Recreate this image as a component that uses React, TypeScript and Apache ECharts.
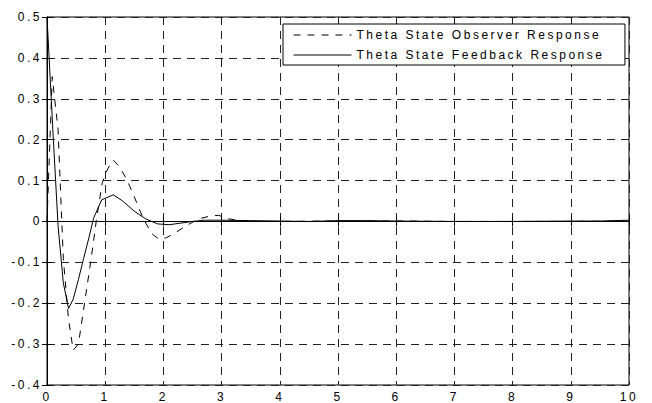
import React, { useEffect, useRef } from "react";
import * as echarts from "echarts";

const xTicks = [0, 1, 2, 3, 4, 5, 6, 7, 8, 9, 10];
const seriesNames = ["Theta State Observer Response", "Theta State Feedback Response"];

const obsT = [0, 0.09, 0.19, 0.28, 0.37, 0.45, 0.54, 0.65, 0.76, 0.85, 0.95, 1.04, 1.14, 1.24, 1.37, 1.5, 1.65, 1.8, 1.92, 2.05, 2.2, 2.4, 2.6, 2.8, 2.95, 3.1, 3.3, 3.6, 4, 5, 6, 7, 8, 9, 10];
const obsV = [0, 0.354, 0.225, -0.09, -0.24, -0.315, -0.3, -0.195, -0.09, 0.005, 0.095, 0.128, 0.15, 0.135, 0.103, 0.06, 0.008, -0.03, -0.043, -0.04, -0.028, -0.01, 0.006, 0.013, 0.015, 0.007, 0.002, 0, 0, 0.001, 0.001, 0, 0, 0, 0.001];

const fbT = [0, 0.1, 0.19, 0.28, 0.37, 0.45, 0.54, 0.63, 0.72, 0.8, 0.94, 1.14, 1.3, 1.5, 1.7, 1.9, 2.1, 2.3, 2.5, 2.7, 3.0, 3.5, 4, 4.5, 5, 5.5, 6, 7, 8, 9, 9.5, 10];
const fbV = [0.5, 0.225, -0.01, -0.15, -0.213, -0.19, -0.142, -0.09, -0.04, 0.008, 0.053, 0.065, 0.05, 0.025, 0.006, -0.006, -0.008, -0.004, 0, 0.003, 0.003, 0.002, 0.001, 0, 0.002, 0.002, 0.001, 0, 0, 0.001, 0.001, 0.003];

const FONT = "'Liberation Sans', Arial, sans-serif";

export default function App() {
  const ref = useRef<HTMLDivElement>(null);
  useEffect(() => {
    if (!ref.current) return;
    const chart = echarts.init(ref.current, null, { renderer: "svg" });
    const fmtY = (v: number) => (Math.abs(v) < 1e-9 ? "0" : v.toFixed(1));
    const commonTick = { show: true, inside: true, length: 5, lineStyle: { color: "#000", width: 1 } };
    chart.setOption({
      animation: false,
      backgroundColor: "#fff",
      grid: { left: 47, right: 23, top: 17, bottom: 16, show: true, borderColor: "#000", borderWidth: 1 },
      legend: {
        orient: "vertical",
        left: 283,
        top: 24,
        padding: [5, 93, 4, 10],
        itemWidth: 58,
        itemHeight: 14,
        itemGap: 8,
        borderColor: "#000",
        borderWidth: 1,
        borderRadius: 0,
        backgroundColor: "#fff",
        itemStyle: { opacity: 0, borderWidth: 0 },
        lineStyle: { width: 1, color: "#000" },
        textStyle: { fontSize: 12, color: "#000", fontFamily: FONT },
        data: seriesNames,
      },
      xAxis: [
        {
          type: "value",
          min: 0,
          max: 10,
          interval: 1,
          axisLine: { show: true, lineStyle: { color: "#000", width: 1 } },
          axisTick: commonTick,
          axisLabel: { margin: 6, fontSize: 12, color: "#000", fontFamily: FONT, formatter: (v: number) => String(v) },
          splitLine: { show: true, lineStyle: { color: "#222", width: 1, type: [8, 6] } },
        },
        {
          type: "value",
          position: "top",
          min: 0,
          max: 10,
          interval: 1,
          axisLine: { show: true, lineStyle: { color: "#000", width: 1 } },
          axisTick: commonTick,
          axisLabel: { show: false },
          splitLine: { show: false },
        },
      ],
      yAxis: [
        {
          type: "value",
          min: -0.4,
          max: 0.5,
          interval: 0.1,
          axisLine: { show: true, lineStyle: { color: "#000", width: 1 } },
          axisTick: commonTick,
          axisLabel: { margin: 5, fontSize: 12, color: "#000", fontFamily: FONT, formatter: fmtY },
          splitLine: { show: true, lineStyle: { color: "#222", width: 1, type: [8, 6] } },
        },
        {
          type: "value",
          position: "right",
          min: -0.4,
          max: 0.5,
          interval: 0.1,
          axisLine: { show: true, lineStyle: { color: "#000", width: 1 } },
          axisTick: commonTick,
          axisLabel: { show: false },
          splitLine: { show: false },
        },
      ],
      series: [
        {
          name: seriesNames[0],
          type: "line",
          symbol: "none",
          showSymbol: false,
          silent: true,
          lineStyle: { color: "#000", width: 1, type: [7, 7] },
          itemStyle: { color: "#000" },
          data: obsT.map((t, i) => [t, obsV[i]]),
          z: 3,
        },
        {
          name: seriesNames[1],
          type: "line",
          symbol: "none",
          showSymbol: false,
          silent: true,
          lineStyle: { color: "#000", width: 1, type: "solid" },
          itemStyle: { color: "#000" },
          data: fbT.map((t, i) => [t, fbV[i]]),
          z: 3,
        },
      ],
    });
    return () => chart.dispose();
  }, []);
  return (
    <>
      <style>{`.chartbox text { letter-spacing: 2.5px; }`}</style>
      <div
        ref={ref}
        className="chartbox"
        style={{ position: "fixed", left: 0, top: 0, width: 652, height: 403, background: "#fff" }}
      />
    </>
  );
}
